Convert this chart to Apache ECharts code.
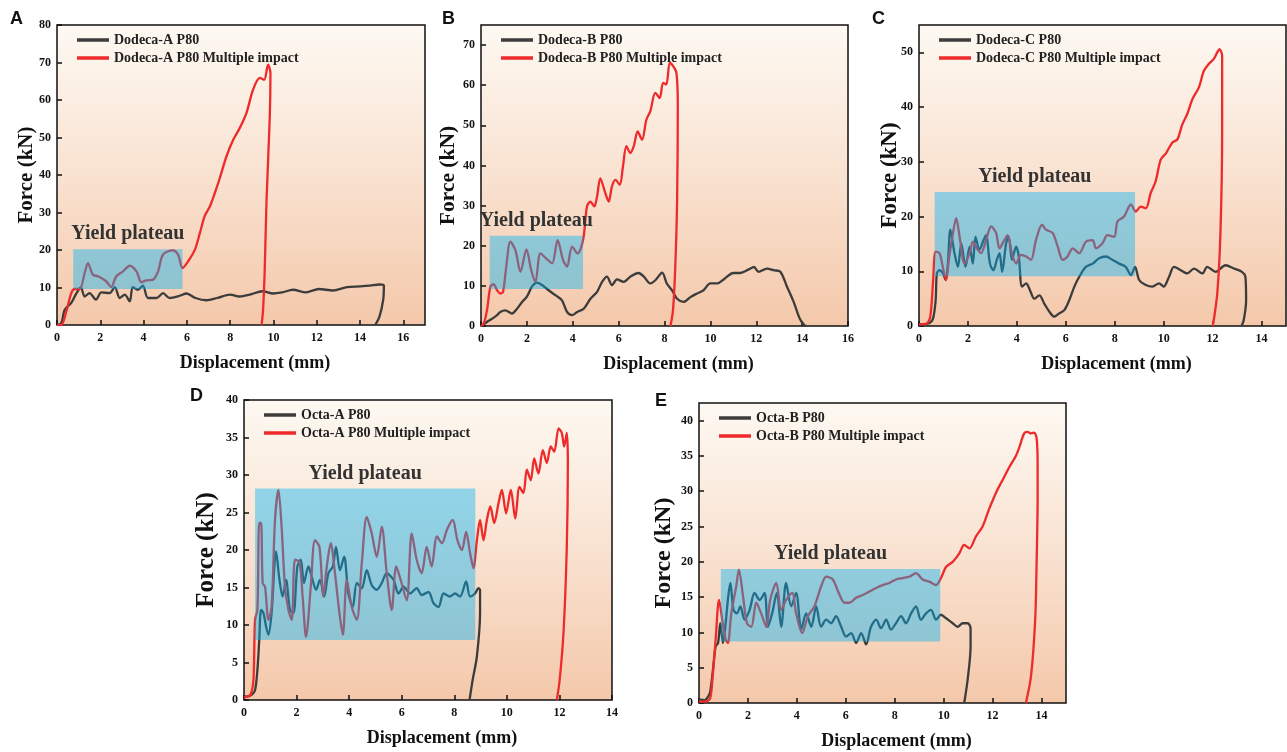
<!DOCTYPE html>
<html>
<head>
<meta charset="utf-8">
<title>Force-displacement curves</title>
<script src="https://cdn.jsdelivr.net/npm/echarts@6/dist/echarts.min.js"></script>
<style>
  html, body { margin: 0; padding: 0; background: #fff; }
  #chart { width: 1287px; height: 752px; }
</style>
</head>
<body>
<div id="chart"></div>
<script>
// ---- data: [displacement (mm), force (kN)] ----
const dodecaA = [[0,0],[0.2,0.5],[0.35,4],[0.66,5.9],[0.9,8.5],[1.1,10],[1.28,7.6],[1.5,8.5],[1.8,6.8],[2.05,8.7],[2.43,8.5],[2.67,10.1],[2.9,7.2],[3.13,8.1],[3.36,6.3],[3.5,10.1],[3.74,9.4],[3.97,10.5],[4.2,7.2],[4.6,7.2],[4.9,8.5],[5.2,7.2],[5.67,7.8],[5.98,8.4],[6.4,7.2],[6.9,6.6],[7.4,7.2],[8,8.1],[8.44,7.6],[8.9,8.1],[9.5,9],[9.98,8.4],[10.4,8.7],[10.9,9.4],[11.5,8.7],[12.1,9.6],[12.75,9.2],[13.4,10.1],[14,10.3],[14.45,10.5],[14.9,10.8],[15.1,10.5],[15.07,6.8],[14.9,2.3],[14.7,0]];
const dodecaAMulti = [[0,0],[0.2,0],[0.43,3.6],[0.66,8.5],[0.82,9.6],[1.05,9.6],[1.28,13.9],[1.43,16.5],[1.66,13.4],[1.9,13],[2.28,11.6],[2.5,10.1],[2.74,13],[3.05,14.3],[3.36,15.8],[3.67,14.3],[3.9,11.4],[4.13,11.9],[4.44,12.1],[4.67,14.3],[4.9,18.8],[5.36,19.9],[5.59,18.8],[5.8,15.2],[6.06,17],[6.37,20.1],[6.6,24.5],[6.82,29],[7.06,31.6],[7.29,35.2],[7.5,38.8],[7.83,45],[8.14,49.4],[8.44,52.5],[8.75,56.5],[9.06,62.8],[9.37,65.9],[9.57,65.4],[9.75,69.4],[9.86,67.2],[9.83,55.6],[9.68,33.4],[9.6,15.6],[9.52,4.1],[9.45,0]];

const dodecaB = [[0,0],[0.26,1],[0.48,1.8],[0.7,2.7],[0.84,3.5],[1.06,3.9],[1.35,3.1],[1.57,4.3],[1.79,6],[2,7.3],[2.22,9.8],[2.44,10.8],[2.66,10.2],[2.95,8.9],[3.24,7.7],[3.53,6.4],[3.75,3.5],[3.97,2.7],[4.19,3.5],[4.48,4.3],[4.77,6.8],[5.06,8.5],[5.28,11],[5.49,12.3],[5.71,10.2],[5.93,11.6],[6.22,11],[6.51,12.3],[6.87,13.2],[7.1,12.3],[7.38,10.6],[7.6,11.4],[7.9,13.3],[8.1,10.6],[8.33,8.9],[8.55,6.8],[8.84,6],[9.13,7.2],[9.42,8.1],[9.7,8.9],[10,10.6],[10.3,10.6],[10.58,11.6],[11,13.2],[11.3,13.2],[11.67,14.1],[11.9,14.7],[12.1,13.5],[12.47,14.3],[12.76,13.9],[13.05,13.5],[13.34,9.8],[13.63,6],[13.9,1.8],[14.1,0.2],[14.2,0]];
const dodecaBMulti = [[0,0],[0.12,0.6],[0.26,3.9],[0.41,9.8],[0.55,10.4],[0.7,8.9],[0.84,8.1],[0.96,8.5],[1.1,14.7],[1.28,21],[1.5,18.9],[1.72,13.5],[1.98,19.1],[2.19,13.9],[2.37,11],[2.59,18.1],[2.85,16.8],[3.1,15.6],[3.34,21.4],[3.58,16.4],[3.75,14.8],[3.97,19.8],[4.21,18.1],[4.45,21.4],[4.62,29.8],[4.77,31],[4.94,29.8],[5.06,32.3],[5.2,36.8],[5.42,33.1],[5.57,31],[5.71,34.8],[5.86,36.4],[6.05,35.2],[6.19,39.8],[6.34,44.8],[6.51,43.1],[6.66,44.8],[6.83,48.5],[7.02,46.4],[7.21,51.4],[7.38,53.5],[7.6,58.1],[7.79,56.8],[7.94,60.6],[8.08,60.2],[8.23,65.6],[8.37,64.8],[8.52,63.1],[8.58,54.8],[8.55,31.4],[8.47,14.8],[8.37,3.9],[8.26,0]];

const dodecaC = [[0,0.3],[0.3,0.4],[0.43,0.55],[0.57,1.3],[0.68,4.7],[0.73,9.6],[0.84,10.2],[0.98,9.6],[1.09,8.4],[1.18,11.4],[1.28,17.6],[1.45,13.3],[1.59,10.8],[1.73,15.1],[1.9,10.8],[2.07,14.5],[2.2,11.4],[2.31,16.3],[2.47,13.9],[2.64,15.7],[2.74,16.6],[2.9,11.4],[3.04,10.2],[3.18,12.1],[3.29,13.3],[3.4,9.9],[3.56,15.1],[3.67,16.3],[3.8,12.1],[3.97,14.5],[4.08,12.7],[4.21,7.2],[4.38,7.8],[4.54,6.5],[4.71,5],[4.92,5.6],[5.12,4.1],[5.33,2.6],[5.53,1.7],[5.73,2.3],[5.94,2.9],[6.14,4.7],[6.35,7.2],[6.55,9],[6.82,10.8],[7.1,11.4],[7.36,12.4],[7.64,12.7],[7.9,12.1],[8.18,11.4],[8.45,10.8],[8.66,9.3],[8.83,10.8],[9,8.4],[9.27,7.5],[9.54,7.2],[9.81,7.8],[10,7.2],[10.22,9],[10.42,10.8],[10.7,10.2],[10.96,9.6],[11.24,10.5],[11.58,9.6],[11.78,10.8],[12.12,9.9],[12.53,11.1],[12.87,10.5],[13.2,9.9],[13.34,9],[13.37,4.7],[13.27,1],[13.18,0]];
const dodecaCMulti = [[0,0.3],[0.3,0.4],[0.46,1.7],[0.57,7.8],[0.68,13.6],[0.84,13.3],[1,10.2],[1.11,8.4],[1.22,12.1],[1.39,17],[1.52,19.7],[1.66,16.3],[1.86,11.4],[2.07,13.3],[2.2,15.4],[2.36,14.2],[2.54,13.3],[2.74,15.7],[2.95,18.2],[3.15,17],[3.29,14.2],[3.49,15.7],[3.62,16.6],[3.8,13.3],[3.97,11.4],[4.17,13],[4.38,12.7],[4.58,12.1],[4.78,15.7],[5.03,18.5],[5.19,17.6],[5.46,17],[5.67,14.5],[5.87,12.1],[6.07,12.7],[6.28,14.2],[6.55,13.3],[6.82,15.4],[7.1,15.7],[7.23,14.2],[7.5,15.1],[7.7,16.6],[7.98,16.3],[8.11,19.1],[8.38,20],[8.66,22.2],[8.86,20.9],[9.06,21.8],[9.27,21.5],[9.47,24.3],[9.67,26.4],[9.88,30.4],[10.1,31.6],[10.35,33.5],[10.56,34.1],[10.76,36.8],[10.96,38.7],[11.17,41.4],[11.44,43.6],[11.64,46.6],[11.85,47.9],[12.05,48.8],[12.19,50],[12.28,50.6],[12.39,49.4],[12.39,35.3],[12.32,17],[12.19,5.9],[12.01,0]];

const octaA = [[0,0.5],[0.1,0.45],[0.29,0.7],[0.42,1.3],[0.51,4],[0.58,8],[0.65,12],[0.74,11.6],[0.84,9.8],[0.93,8.7],[1.05,11.6],[1.22,19.8],[1.35,16],[1.47,13.8],[1.6,16],[1.75,12],[1.88,11.6],[2.03,17.8],[2.16,18.7],[2.28,15.6],[2.45,17.8],[2.58,16.4],[2.74,14.7],[2.89,16],[3.05,13.8],[3.21,16.9],[3.38,17.8],[3.5,20.4],[3.65,17.3],[3.81,19.1],[3.97,14.2],[4.14,12.4],[4.29,15.6],[4.48,14.9],[4.67,17.3],[4.86,15.3],[5.05,14.7],[5.24,15.6],[5.43,16.9],[5.69,16],[5.88,14.2],[6.07,15.1],[6.32,14.2],[6.57,14.9],[6.76,14],[7.02,14.4],[7.21,12.9],[7.4,12.4],[7.59,14.2],[7.84,13.8],[8.03,14.2],[8.22,13.8],[8.45,15.8],[8.6,13.8],[8.79,14.2],[8.92,14.9],[8.98,14.7],[8.98,11.6],[8.86,5.8],[8.7,2.7],[8.58,0]];
const octaAMulti = [[0,0.3],[0.1,0.45],[0.25,0.7],[0.36,2.7],[0.42,10.7],[0.51,12],[0.58,23.6],[0.65,23.6],[0.71,15.6],[0.8,15.1],[0.93,10.7],[1.05,12.4],[1.18,24],[1.31,28],[1.43,23.1],[1.56,15.1],[1.69,12],[1.82,10.7],[1.94,18.7],[2.11,18.4],[2.23,13.8],[2.36,8.4],[2.54,15.1],[2.7,21.3],[2.87,20.4],[3.02,13.8],[3.15,17.8],[3.3,20.9],[3.46,16.9],[3.63,11.6],[3.76,8.7],[3.91,16],[4.1,12.4],[4.29,10.7],[4.48,18.2],[4.67,24.4],[4.86,22.2],[5.05,19.1],[5.24,23.1],[5.43,16.9],[5.62,12],[5.79,17.8],[5.96,16],[6.19,13.3],[6.38,22.2],[6.57,18.7],[6.76,16.9],[6.95,20.4],[7.14,17.8],[7.34,21.8],[7.53,20.9],[7.72,22.7],[7.94,24],[8.12,21.3],[8.29,20],[8.45,22.4],[8.6,19.6],[8.73,17.6],[8.86,21.3],[8.98,24],[9.11,21.3],[9.24,24],[9.37,25.8],[9.52,23.6],[9.68,26.2],[9.81,28],[9.97,24.9],[10.15,28],[10.32,24.2],[10.48,28.4],[10.63,27.6],[10.76,30.7],[10.91,29.3],[11.04,32.2],[11.2,30.2],[11.37,33.3],[11.52,31.6],[11.67,33.8],[11.8,33.1],[11.97,36.2],[12.09,35.6],[12.18,33.8],[12.28,35.6],[12.32,31.6],[12.28,20.4],[12.16,9.3],[12.01,2.7],[11.9,0]];

const octaB = [[0,0.5],[0.23,0.4],[0.37,0.9],[0.46,1.65],[0.57,4.7],[0.68,8],[0.78,8.5],[0.87,11.3],[0.98,8.5],[1.09,11.3],[1.18,14.6],[1.28,17],[1.41,13.2],[1.55,12.7],[1.69,13.7],[1.86,11.8],[2.07,13.2],[2.27,15.6],[2.48,14.6],[2.68,15.6],[2.82,10.8],[2.99,12.7],[3.18,15.6],[3.36,10.8],[3.56,17],[3.77,13.7],[3.97,15.6],[4.18,10.4],[4.38,12.7],[4.59,10.8],[4.79,13.7],[4.99,10.8],[5.2,11.8],[5.4,11.3],[5.6,12.3],[5.81,10.8],[6.01,9.4],[6.22,9.9],[6.42,8.5],[6.63,9.9],[6.83,8.3],[7.03,10.8],[7.24,11.8],[7.44,10.6],[7.65,11.8],[7.85,10.4],[8.05,11.3],[8.26,12.3],[8.46,11.3],[8.67,12.7],[8.87,13.7],[9.07,11.8],[9.28,12.7],[9.48,13.2],[9.69,11.8],[9.89,12.5],[10.1,12],[10.37,11.3],[10.57,10.8],[10.78,11.3],[10.98,11.3],[11.1,10.6],[11.1,8],[10.98,3.3],[10.84,0]];
const octaBMulti = [[0,0.2],[0.3,0.24],[0.46,0.7],[0.57,4.2],[0.68,9],[0.82,14.6],[0.95,11.8],[1.09,9],[1.18,8.5],[1.32,12.7],[1.52,16.5],[1.63,18.9],[1.8,15.1],[1.96,11.3],[2.14,10.8],[2.34,14.2],[2.54,12.7],[2.75,10.8],[2.91,14.6],[3.16,17],[3.36,13.2],[3.56,14.6],[3.81,15.6],[3.97,12.7],[4.22,9.9],[4.45,12.3],[4.72,13.7],[4.99,16.5],[5.2,17.9],[5.47,17.5],[5.71,15.6],[5.95,14.2],[6.15,14.2],[6.42,14.9],[6.69,15.3],[6.97,15.8],[7.24,16.3],[7.51,16.7],[7.78,17],[8.05,17.5],[8.33,17.7],[8.6,17.9],[8.87,18.4],[9.14,17.5],[9.41,17.2],[9.69,16.7],[9.89,17.7],[10.1,19.3],[10.37,20],[10.64,21.2],[10.84,22.4],[11.05,21.9],[11.32,23.6],[11.59,25],[11.86,27.5],[12.14,29.8],[12.41,31.6],[12.68,33.4],[12.95,35],[13.09,36.2],[13.29,38.2],[13.43,38.4],[13.57,38.2],[13.7,38.3],[13.8,37.5],[13.84,34],[13.84,29],[13.8,20],[13.74,11.8],[13.57,3.8],[13.36,0]];

// yield plateau boxes: [[x0, y0], [x1, y1]]
const plateauA = [[0.75, 9.6], [5.8, 20.2]];
const plateauB = [[0.38, 9.2], [4.45, 22.5]];
const plateauC = [[0.64, 9.1], [8.83, 24.5]];
const plateauD = [[0.42, 8.0], [8.8, 28.2]];
const plateauE = [[0.89, 8.7], [9.86, 19.0]];

// axis ranges: [max, step]
const xAxisA = [17, 2], yAxisA = [80, 10];
const xAxisB = [16, 2], yAxisB = [75, 10];
const xAxisC = [15, 2], yAxisC = [55, 10];
const xAxisD = [14, 2], yAxisD = [40, 5];
const xAxisE = [15, 2], yAxisE = [42.5, 5];

const panels = [
  { letter: 'A', name: 'Dodeca-A P80', single: dodecaA, multi: dodecaAMulti, plateau: plateauA, xr: xAxisA, yr: yAxisA },
  { letter: 'B', name: 'Dodeca-B P80', single: dodecaB, multi: dodecaBMulti, plateau: plateauB, xr: xAxisB, yr: yAxisB },
  { letter: 'C', name: 'Dodeca-C P80', single: dodecaC, multi: dodecaCMulti, plateau: plateauC, xr: xAxisC, yr: yAxisC },
  { letter: 'D', name: 'Octa-A P80', single: octaA, multi: octaAMulti, plateau: plateauD, xr: xAxisD, yr: yAxisD },
  { letter: 'E', name: 'Octa-B P80', single: octaB, multi: octaBMulti, plateau: plateauE, xr: xAxisE, yr: yAxisE }
];

// ---- layout (pixels) ----
// A and C: y-axis title sits over the tick-label column, so don't let it be pushed out
const layout = [
  { left: 57,  top: 25,  width: 368, height: 300, letter: [10, 10],  yNameSize: 21, yNameGap: 20, pushName: false },
  { left: 481, top: 25,  width: 367, height: 301, letter: [442, 10], yNameSize: 21.5, yNameGap: 20, pushName: true },
  { left: 919, top: 25,  width: 367, height: 301, letter: [872, 10], yNameSize: 23, yNameGap: 17.5, pushName: false },
  { left: 244, top: 400, width: 368, height: 300, letter: [190, 387], yNameSize: 25, yNameGap: 25, pushName: true },
  { left: 699, top: 403, width: 367, height: 300, letter: [655, 392], yNameSize: 24, yNameGap: 23, pushName: true }
];

const SERIF = '"Liberation Serif", "Times New Roman", serif';
const GRAY = '#3c3c3c';
const RED = '#ee2a2a';

const plotBg = new echarts.graphic.LinearGradient(0, 0, 0, 1, [
  { offset: 0, color: '#fdf9f2' },
  { offset: 0.5, color: '#f9e2d1' },
  { offset: 1, color: '#f4c8aa' }
]);

const grid = [], xAxis = [], yAxis = [], series = [], legend = [], graphic = [];

panels.forEach((p, i) => {
  const L = layout[i];
  grid.push({
    left: L.left, top: L.top, width: L.width, height: L.height,
    show: true, backgroundColor: plotBg, borderColor: '#111', borderWidth: 1.5
  });
  xAxis.push({
    type: 'value', gridIndex: i, min: 0, max: p.xr[0], interval: p.xr[1],
    name: 'Displacement (mm)', nameLocation: 'middle', nameGap: 29,
    nameTextStyle: { fontFamily: SERIF, fontWeight: 'bold', fontSize: 18, color: '#111', padding: [0, 0, 0, 28] },
    axisLine: { show: false },
    axisTick: { show: true, inside: true, length: 5, lineStyle: { color: '#111', width: 1.5 } },
    axisLabel: { fontFamily: SERIF, fontWeight: 'bold', fontSize: 12, color: '#111', margin: 7, showMaxLabel: p.xr[0] % p.xr[1] === 0 },
    splitLine: { show: false }
  });
  yAxis.push({
    type: 'value', gridIndex: i, min: 0, max: p.yr[0], interval: p.yr[1],
    name: 'Force (kN)', nameLocation: 'middle', nameGap: L.yNameGap, nameMoveOverlap: L.pushName,
    nameTextStyle: { fontFamily: SERIF, fontWeight: 'bold', fontSize: L.yNameSize, color: '#111' },
    axisLine: { show: false },
    axisTick: { show: true, inside: true, length: 5, lineStyle: { color: '#111', width: 1.5 } },
    axisLabel: { fontFamily: SERIF, fontWeight: 'bold', fontSize: 12, color: '#111', margin: 6, showMaxLabel: p.yr[0] % p.yr[1] === 0 },
    splitLine: { show: false }
  });
  const multiName = p.name + ' Multiple impact';
  series.push({
    name: p.name, type: 'line', xAxisIndex: i, yAxisIndex: i,
    data: p.single, symbol: 'none', smooth: 0.3, z: 2,
    color: GRAY, lineStyle: { color: GRAY, width: 2.3 }
  });
  series.push({
    name: multiName, type: 'line', xAxisIndex: i, yAxisIndex: i,
    data: p.multi, symbol: 'none', smooth: 0.3, z: 3,
    color: RED, lineStyle: { color: RED, width: 2.3 },
    markArea: {
      silent: true, z: 5,
      itemStyle: { color: 'rgba(0, 178, 245, 0.42)' },
      label: {
        show: true, position: 'top', distance: 5,
        fontFamily: SERIF, fontWeight: 'bold', fontSize: 20, color: '#333'
      },
      data: [[
        { name: 'Yield plateau', xAxis: p.plateau[0][0], yAxis: p.plateau[0][1] },
        { xAxis: p.plateau[1][0], yAxis: p.plateau[1][1] }
      ]]
    }
  });
  legend.push({
    data: [p.name, multiName], orient: 'vertical',
    left: L.left + 20, top: L.top + 7, padding: 0, itemGap: 2,
    icon: 'rect', itemWidth: 32, itemHeight: 3.5,
    textStyle: { fontFamily: SERIF, fontWeight: 'bold', fontSize: 14, color: '#222', lineHeight: 16 }
  });
  graphic.push({
    type: 'text', left: L.letter[0], top: L.letter[1],
    style: { text: p.letter, font: 'bold 18px "Liberation Sans", Arial, sans-serif', fill: '#111' }
  });
});

const chart = echarts.init(document.getElementById('chart'));
chart.setOption({
  backgroundColor: '#fff',
  animation: false,
  grid, xAxis, yAxis, series, legend, graphic
});
</script>
</body>
</html>
